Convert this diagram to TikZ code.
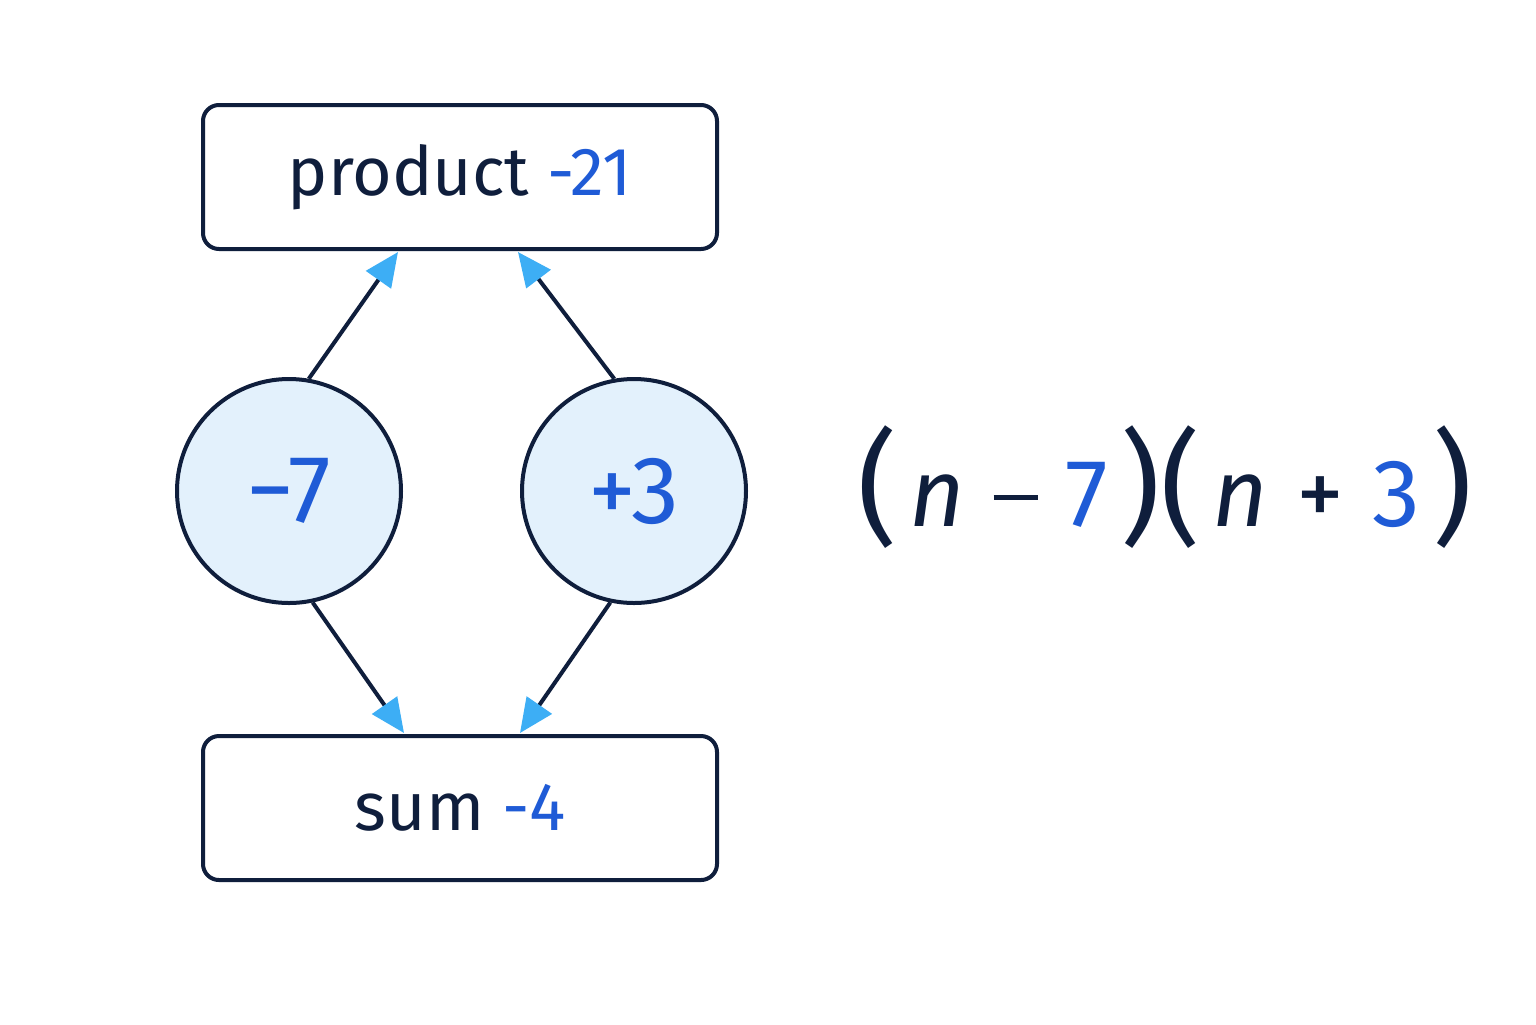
\documentclass[tikz,border=0pt]{standalone}
\usepackage{fontspec}
\setmainfont{Fira Sans}
\usetikzlibrary{arrows.meta}
\definecolor{navy}{HTML}{0F1E3C}
\definecolor{blu}{HTML}{1F5BD6}
\definecolor{lb}{HTML}{3DAEF5}
\definecolor{cf}{HTML}{E3F1FC}
\begin{document}
\begin{tikzpicture}[x=0.5pt,y=-0.5pt,
 box/.style={draw=navy,line width=2pt,rounded corners=8pt,minimum width=257pt,minimum height=72pt,inner sep=0pt},
 circ/.style={circle,draw=navy,fill=cf,line width=2pt,minimum size=112pt,inner sep=0pt},
 arr/.style={draw=navy,line width=2pt,-{Triangle[length=17pt,width=15pt,color=lb]}}]
\useasboundingbox[fill=white] (0,0) rectangle (1536,1024);
\node[box] (top) at (460,177) {\fontsize{34}{40}\selectfont\color{navy}product \color{blu}-21};
\node[box] (bot) at (460,808) {\fontsize{34}{40}\selectfont\color{navy}sum \color{blu}-4};
\node[circ] (c1) at (289,491) {\fontsize{48}{50}\selectfont\color{blu}−7};
\node[circ] (c2) at (634,491) {\fontsize{48}{50}\selectfont\color{blu}+3};
\coordinate (t1) at (398,252); \coordinate (t2) at (518,252);
\coordinate (b1) at (404,733); \coordinate (b2) at (520,733);
\draw[arr] (c1.80) -- (t1);
\draw[arr] (c2.100) -- (t2);
\draw[arr] (c1.-78) -- (b1);
\draw[arr] (c2.-102) -- (b2);
\node[text=navy] (f) at (1165,487) {\fontsize{48}{50}\selectfont
 {\fontsize{62}{62}\selectfont\raisebox{-2pt}{(}}\hspace{6pt}\textit{n}\hspace{14pt}\raisebox{13pt}{\rule{22pt}{2.6pt}}\hspace{14pt}\textcolor{blu}{7}\hspace{6pt}{\fontsize{62}{62}\selectfont\raisebox{-2pt}{)(}}\hspace{6pt}\textit{n}\hspace{14pt}+\hspace{14pt}\textcolor{blu}{3}\hspace{6pt}{\fontsize{62}{62}\selectfont\raisebox{-2pt}{)}}};
\end{tikzpicture}
\end{document}
